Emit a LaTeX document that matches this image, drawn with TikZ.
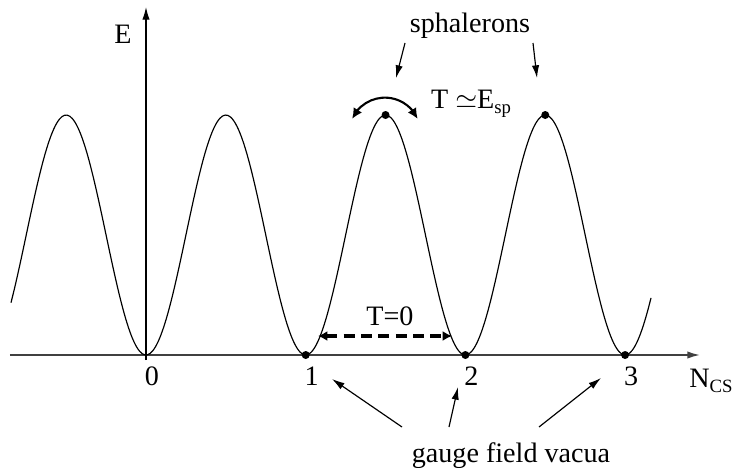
\documentclass[tikz,border=0pt]{standalone}
\usepackage{fontspec}
\setmainfont{Liberation Serif}
\usetikzlibrary{arrows.meta,bending}

\begin{document}
\begin{tikzpicture}[x=0.015cm,y=0.015cm,>={Latex[length=1.9mm,width=1.1mm]},font=\fontsize{12}{14}\selectfont]
    \tikzset{dot/.style={circle,fill,inner sep=0pt,minimum size=0.12cm},
      lbl/.style={anchor=base,inner sep=0pt},
      pointer/.style={->,line width=0.5pt}}
    \useasboundingbox (-146,-112) rectangle (590,355);
    \draw[->,black!75,line width=0.7pt] (-136,0) -- (554,0);
    \draw[->,line width=0.5pt] (0,-5) -- (0,348);
    \draw[line width=0.5pt,domain=-135:505,samples=240,smooth] plot (\x,{240*pow(sin(\x/159.7*180),2)});
    \foreach \n in {1,2,3}
      \node[dot] (v\n) at (159.7*\n,0) {};
    \node[dot] (s1) at (239.55,240) {};
    \node[dot] (s2) at (399.25,240) {};
    \foreach \n in {0,...,3}
      \node[lbl] (l\n) at (159.7*\n+6,-30) {\n};
    \node[lbl] (ncs) at (565,-32) {N\raisebox{-0.45ex}{\footnotesize CS}};
    \node[lbl] (elabel) at (-23,312) {E};
    \node[lbl] (sph) at (324,323) {sphalerons};
    \node[lbl] (tesp) at (325,247) {T $\simeq$E\raisebox{-0.45ex}{\footnotesize sp}};
    \node[lbl] (tzero) at (244,30) {T=0};
    \node[lbl] (vac) at (365,-107) {gauge field vacua};
    \coordinate (p1) at (259,312);
    \coordinate (q1) at (250,277);
    \coordinate (p2) at (387,312);
    \coordinate (q2) at (391,277);
    \draw[pointer] (p1) -- (q1);
    \draw[pointer] (p2) -- (q2);
    \coordinate (ca) at (206,236);
    \draw[{Latex[length=1.6mm,width=1.5mm,flex]}-{Latex[length=1.6mm,width=1.5mm,flex]},line width=0.9pt] (ca) arc[start angle=156,end angle=24,radius=0.54cm];
    \coordinate (da) at (172,19);
    \coordinate (db) at (306,19);
    \draw[{Latex[length=1.4mm,width=1.5mm]}-{Latex[length=1.4mm,width=1.5mm]},line width=1.6pt,dash pattern=on 4.6pt off 2.8pt] (da) -- (db);
    \coordinate (g1) at (256,-72);
    \coordinate (g2) at (303,-72);
    \coordinate (g3) at (393,-72);
    \coordinate (t1) at (186,-24);
    \coordinate (t2) at (312,-32);
    \coordinate (t3) at (455,-23);
    \draw[pointer] (g1) -- (t1);
    \draw[pointer] (g2) -- (t2);
    \draw[pointer] (g3) -- (t3);
  \end{tikzpicture}
\end{document}
